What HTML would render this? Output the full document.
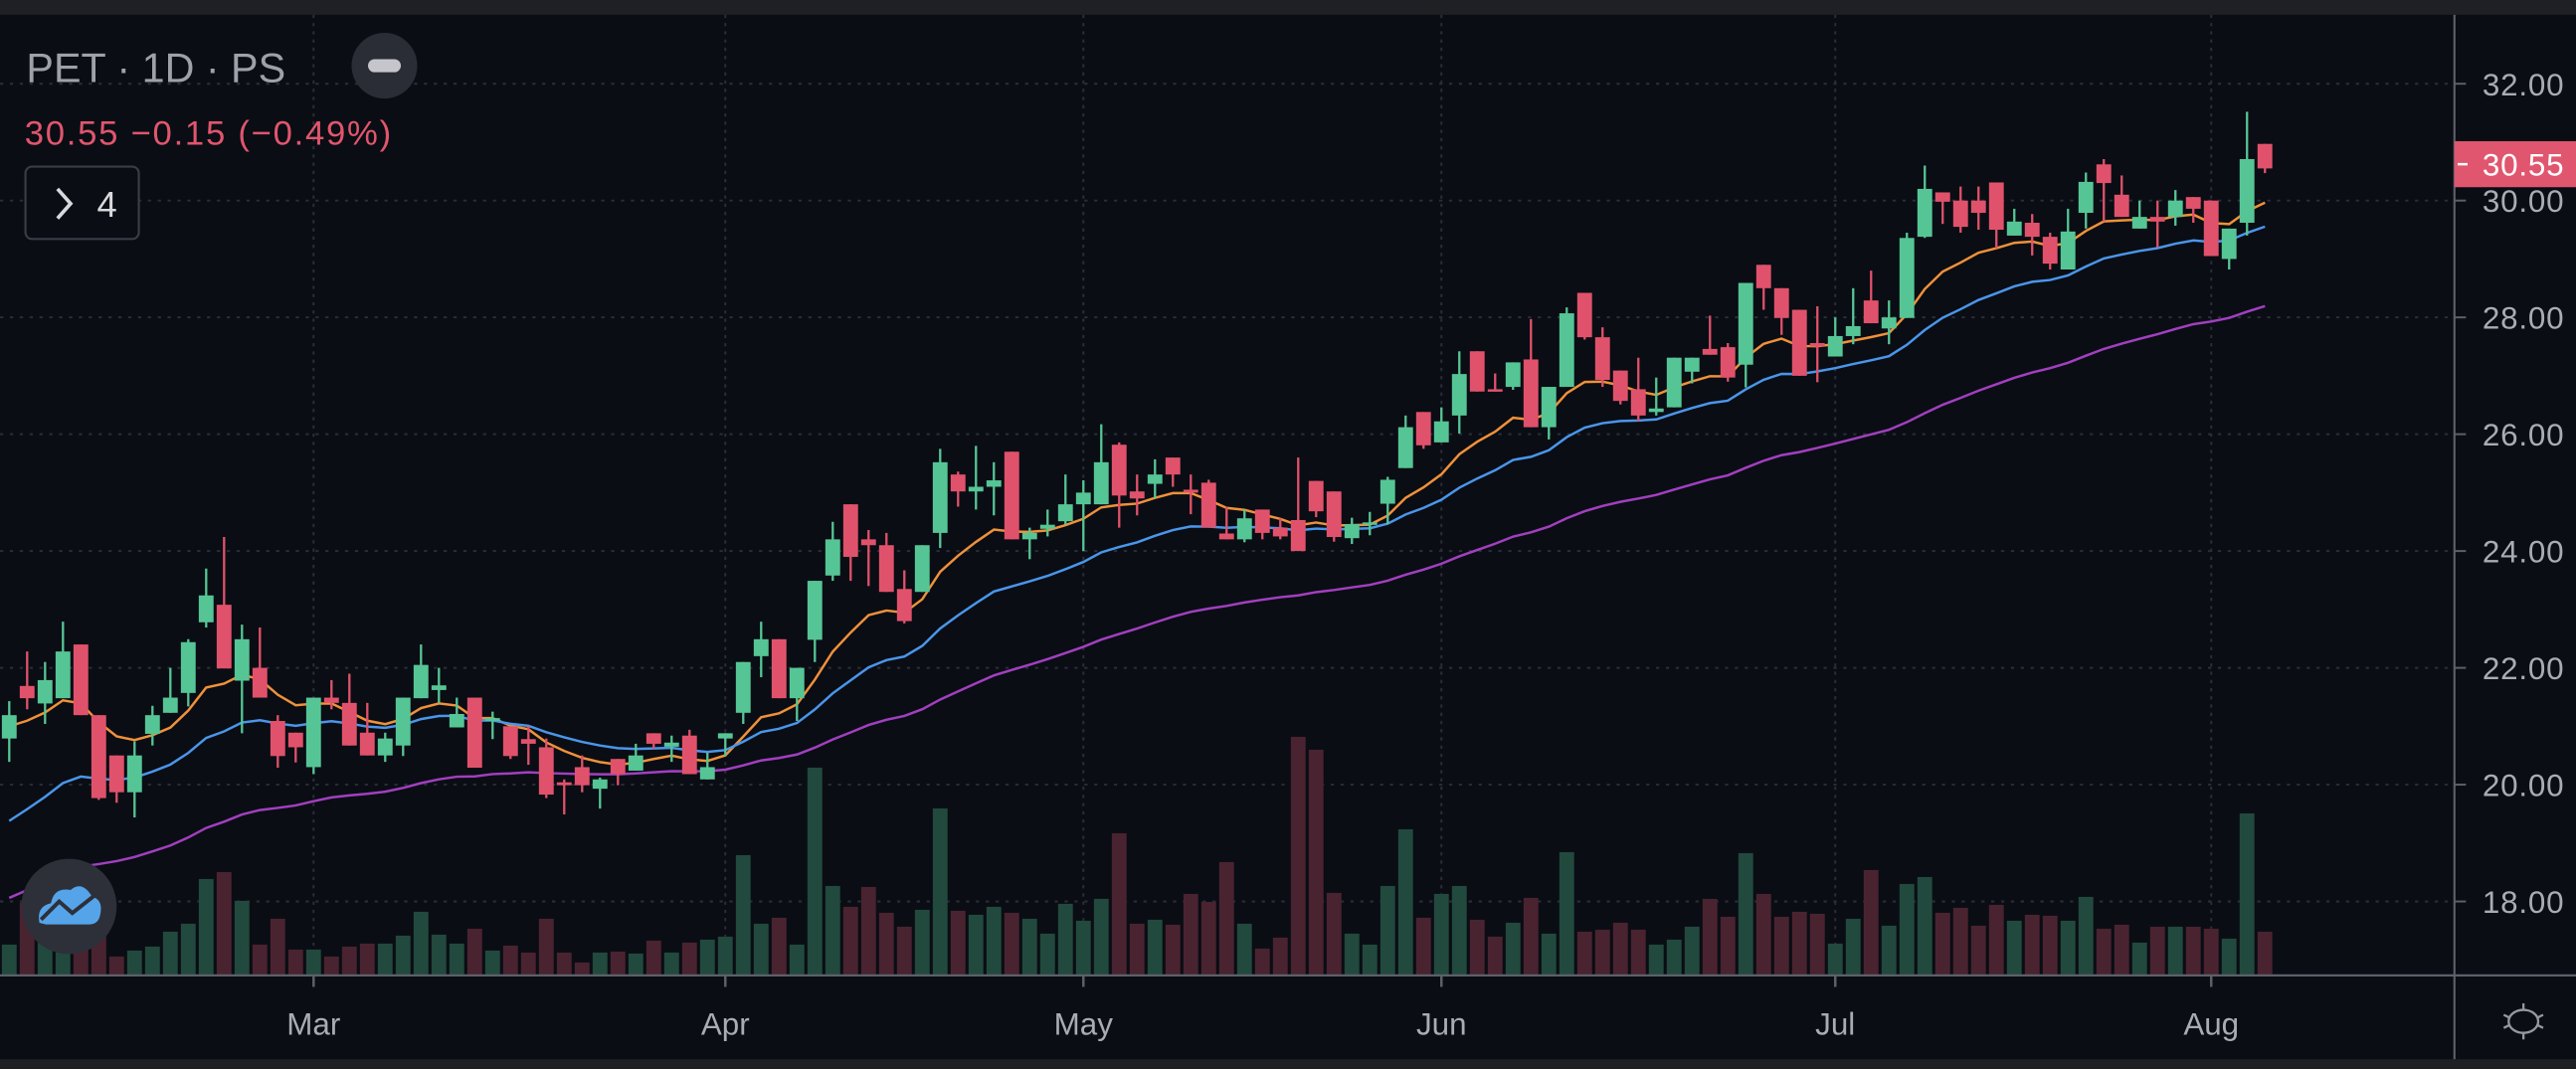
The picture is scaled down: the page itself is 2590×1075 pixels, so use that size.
<!DOCTYPE html>
<html><head><meta charset="utf-8"><style>
html,body{margin:0;padding:0;background:#0a0d14;}
svg{display:block;}
text{font-family:"Liberation Sans",sans-serif;}
</style></head><body>
<svg id="chart" width="2590" height="1075" viewBox="0 0 1568 651" preserveAspectRatio="none" xmlns="http://www.w3.org/2000/svg">
<rect x="0" y="0" width="1568" height="651" fill="#0a0d14"/>
<rect x="0" y="0" width="1568" height="9" fill="#1f2023"/>
<rect x="0" y="645" width="1568" height="6" fill="#1f2023"/>
<g id="grid"></g>
<g id="vol"></g>
<g id="ma"></g>
<g id="candles"></g>
<line x1="1494" y1="9" x2="1494" y2="645" stroke="#5d606b" stroke-width="1.3"/>
<line x1="0" y1="594" x2="1568" y2="594" stroke="#5d606b" stroke-width="1.3"/>
<g id="yaxis"></g>
<g id="xaxis"></g>
<g>
<rect x="1494" y="86" width="74" height="28" fill="#e0566e"/>
<line x1="1496" y1="100" x2="1502" y2="100" stroke="#fff" stroke-width="1.5"/>
<text x="1536" y="107" font-size="19" fill="#ffffff" text-anchor="middle" letter-spacing="0.5">30.55</text>
</g>
<g stroke="#9598a1" stroke-width="1.4" fill="none">
<ellipse cx="1536" cy="622" rx="9" ry="7"/>
<line x1="1536" y1="611" x2="1536" y2="615"/><line x1="1536" y1="629" x2="1536" y2="633"/>
<line x1="1524" y1="618" x2="1528" y2="620"/><line x1="1544" y1="624" x2="1548" y2="626"/>
<line x1="1524" y1="626" x2="1528" y2="624"/><line x1="1544" y1="620" x2="1548" y2="618"/>
</g>
<text x="16" y="50" font-size="25" fill="#9ea1a9">PET · 1D · PS</text>
<g>
<circle cx="234" cy="40" r="20" fill="#2a2d35"/>
<rect x="224" y="36" width="20" height="8" rx="4" fill="#c4c6cc"/>
</g>
<text x="15" y="88" font-size="21" fill="#e0566e" textLength="223" lengthAdjust="spacing">30.55  −0.15 (−0.49%)</text>
<g>
<rect x="15.5" y="101.5" width="69" height="44" rx="4" fill="#0a0d14" stroke="#3a3d46" stroke-width="1.3"/>
<polyline points="35,115 43,124 35,133" fill="none" stroke="#d8d9dd" stroke-width="2.2"/>
<text x="59" y="132" font-size="22" fill="#d8d9dd">4</text>
</g>
<g>
<circle cx="42" cy="552" r="29" fill="#2e3039"/>
<path d="M24 562 Q22 552 31 550 Q33 540 43 542 Q50 536 56 546 Q63 548 61 557 Q60 563 54 563 L28 563 Z" fill="#55a4ea"/>
<polyline points="25,560 36,549 44,556 58,545" fill="none" stroke="#2e3039" stroke-width="2.4"/>
</g>
</svg>
<script>
const opens=[20.79,21.69,21.39,21.48,22.40,21.19,20.50,19.87,20.87,21.23,21.57,22.78,23.08,21.78,22.00,21.09,20.89,20.30,21.49,21.40,20.89,20.50,20.67,21.48,21.62,20.98,21.49,21.09,21.00,20.78,20.64,20.04,20.30,19.93,20.44,20.24,20.88,20.65,20.84,20.09,20.79,21.23,22.20,22.49,21.48,22.48,23.58,24.80,24.20,24.10,23.35,23.30,24.31,25.31,25.02,25.10,25.70,24.20,24.38,24.51,24.80,24.80,25.82,25.02,25.15,25.60,25.05,25.17,24.30,24.20,24.71,24.40,24.53,25.20,25.02,24.22,24.45,24.81,25.42,26.38,25.86,26.32,27.42,26.77,26.81,27.28,26.12,26.81,28.42,27.66,27.09,26.77,26.38,26.46,27.07,27.46,27.49,27.19,28.90,28.50,28.13,27.56,27.33,27.68,28.29,27.81,27.99,29.38,30.14,30.00,30.00,30.31,29.40,29.62,29.38,28.82,29.79,30.62,30.10,29.52,29.72,29.72,30.06,30.00,29.00,29.62,30.97];
const highs=[21.43,22.28,22.10,22.79,22.40,21.19,20.50,20.74,21.35,22.00,22.49,23.70,24.24,22.74,22.69,21.19,20.89,21.49,21.79,21.90,21.40,20.89,21.49,22.40,22.00,21.49,21.49,21.25,21.00,21.00,20.79,20.09,20.50,20.12,20.44,20.70,20.88,20.84,20.94,20.55,20.88,22.10,22.79,22.49,22.00,23.49,24.50,24.80,24.36,24.31,23.67,24.10,25.75,25.36,25.80,25.52,25.70,24.40,24.71,25.31,25.21,26.17,25.86,25.31,25.57,25.60,25.31,25.22,24.76,24.71,24.71,24.56,25.60,25.20,25.02,24.57,24.67,25.27,26.32,26.38,26.46,27.42,27.42,27.04,27.23,27.97,26.81,28.17,28.42,27.83,27.09,27.31,26.97,27.31,27.31,28.03,27.56,28.59,28.90,28.50,28.13,28.19,28.00,28.50,28.80,28.29,29.45,30.60,30.14,30.24,30.24,30.31,29.86,29.77,29.45,29.86,30.48,30.71,30.43,30.00,30.00,30.18,30.06,30.00,29.52,31.52,30.97];
const lows=[20.39,21.29,21.04,21.48,21.19,19.74,19.69,19.44,20.67,21.23,21.34,22.69,21.99,20.88,21.49,20.29,20.38,20.18,21.29,20.67,20.50,20.39,20.49,21.48,21.40,20.98,20.29,20.78,20.44,20.34,19.77,19.49,19.87,19.59,19.99,20.24,20.61,20.39,20.18,20.09,20.49,21.04,21.84,21.48,21.09,22.10,23.49,23.49,23.40,23.30,22.76,23.30,24.05,24.76,24.71,24.61,24.20,23.86,24.25,24.45,24.00,24.80,24.40,24.61,24.90,25.10,24.63,24.40,24.20,24.15,24.20,24.20,24.00,24.58,24.16,24.12,24.27,24.46,25.42,25.75,25.86,26.01,26.73,26.73,26.76,26.12,25.91,26.81,27.62,26.81,26.51,26.22,26.32,26.46,26.87,27.36,26.90,26.80,28.13,27.70,27.00,26.89,27.33,27.54,27.90,27.54,27.99,29.36,29.60,29.45,29.50,29.18,29.40,29.06,28.82,28.82,29.52,29.64,29.72,29.52,29.20,29.57,29.62,29.05,28.82,29.40,30.47];
const closes=[21.19,21.48,21.79,22.28,21.19,19.77,19.87,20.50,21.19,21.49,22.44,23.24,21.99,22.49,21.49,20.49,20.64,21.49,21.40,20.67,20.50,20.79,21.49,22.05,21.70,21.21,20.29,21.14,20.49,20.70,19.83,19.99,19.99,20.09,20.18,20.50,20.70,20.72,20.18,20.30,20.88,22.10,22.49,21.48,22.00,23.49,24.20,23.90,24.10,23.30,22.80,24.10,25.52,25.02,25.10,25.21,24.20,24.31,24.45,24.80,25.00,25.52,24.95,24.90,25.31,25.31,25.00,24.40,24.20,24.56,24.31,24.25,24.00,24.68,24.24,24.46,24.49,25.22,26.12,25.81,26.22,27.03,26.73,26.73,27.23,26.12,26.81,28.07,27.66,26.93,26.57,26.32,26.44,27.31,27.31,27.36,26.97,28.59,28.50,27.99,27.00,27.50,27.68,27.85,27.90,28.00,29.36,30.20,29.98,29.55,29.79,29.50,29.64,29.38,28.92,29.47,30.32,30.30,29.72,29.72,29.64,30.00,29.86,29.05,29.52,30.71,30.55];
const volumes=[31,73,33,23,33,40,19,25,29,44,52,97,104,75,31,57,26,26,19,29,32,32,40,64,41,32,47,25,30,23,57,23,13,23,24,22,35,23,33,36,39,121,52,58,31,209,90,69,89,63,49,66,168,65,61,69,63,57,42,72,55,77,143,52,56,51,82,74,114,52,27,38,240,227,83,42,31,90,147,58,82,90,56,39,53,78,42,124,44,46,53,46,31,36,49,77,59,123,82,59,64,62,32,57,106,50,92,99,63,68,50,71,55,61,60,55,79,47,51,33,49,49,49,47,37,163,44];
const priceTicks=[18,20,22,24,26,28,30,32];
const tickLabels=["18.00","20.00","22.00","24.00","26.00","28.00","30.00","32.00"];
const monthNames=["Mar","Apr","May","Jun","Jul","Aug"];
const monthIdx=[17,40,60,80,102,123];
const maPeriods=[9,20,50];
const maSeeds=[21.0,19.38,18.06];
const maColors=["#f0913a","#4a96ea","#a23fc0"];

const NS="http://www.w3.org/2000/svg";
const X=i=>5.63+i*10.897;
const Y=p=>51+(32-p)*35.57;
const VY=v=>594-v/1.6518;
function mk(tag,attrs,parent){const e=document.createElementNS(NS,tag);for(const k in attrs)e.setAttribute(k,attrs[k]);parent.appendChild(e);return e;}
const grid=document.getElementById('grid'),yaxis=document.getElementById('yaxis'),xaxis=document.getElementById('xaxis');
priceTicks.forEach((p,k)=>{
  const l=mk('line',{x1:0,x2:1494,y1:Y(p),y2:Y(p),stroke:'#2a2e38','stroke-width':1.2,'stroke-dasharray':'2 4'},grid);
  
  
  const t=mk('line',{x1:1494,x2:1501,y1:Y(p),y2:Y(p),stroke:'#5d606b','stroke-width':1.2},yaxis);
  
  
  const tx=mk('text',{x:1536,y:Y(p)+7,'font-size':19,fill:'#a9acb4','text-anchor':'middle','letter-spacing':0.5},yaxis);
  tx.textContent=tickLabels[k];
  
  
});
monthIdx.forEach((mi,k)=>{
  const l=mk('line',{x1:X(mi),x2:X(mi),y1:9,y2:594,stroke:'#2a2e38','stroke-width':1.2,'stroke-dasharray':'2 3'},grid);
  
  
  const t=mk('line',{x1:X(mi),x2:X(mi),y1:594,y2:601,stroke:'#5d606b','stroke-width':1.5},xaxis);
  
  
  const tx=mk('text',{x:X(mi),y:630,'font-size':19,fill:'#a9acb4','text-anchor':'middle'},xaxis);
  tx.textContent=monthNames[k];
  
  
});
const vol=document.getElementById('vol');
volumes.forEach((v,i)=>{
  const up=closes[i]>=opens[i];
  const r=mk('rect',{x:X(i)-4.5,y:VY(v),width:9,height:594-VY(v),fill:up?'#22493d':'#4a2330'},vol);
  
  
});
const ma=document.getElementById('ma');
maPeriods.forEach((n,k)=>{
  const a=2/(n+1);let e=maSeeds[k];const pts=[];
  closes.forEach((c,i)=>{if(i>0)e=e+a*(c-e);pts.push(X(i).toFixed(1)+','+Y(e).toFixed(1));});
  const pl=mk('polyline',{points:pts.join(' '),fill:'none',stroke:maColors[k],'stroke-width':1.5},ma);
  
  
});
const cg=document.getElementById('candles');
opens.forEach((o,i)=>{
  const c=closes[i],up=c>=o,col=up?'#56c595':'#e0526b';
  const g=mk('g',{},cg);
  
  
  mk('line',{x1:X(i),x2:X(i),y1:Y(highs[i]),y2:Y(lows[i]),stroke:col,'stroke-width':1.4},g);
  const top=Y(Math.max(o,c)),bot=Y(Math.min(o,c));
  mk('rect',{x:X(i)-4.5,y:top,width:9,height:Math.max(1.5,bot-top),fill:col},g);
});
</script>
</body></html>
